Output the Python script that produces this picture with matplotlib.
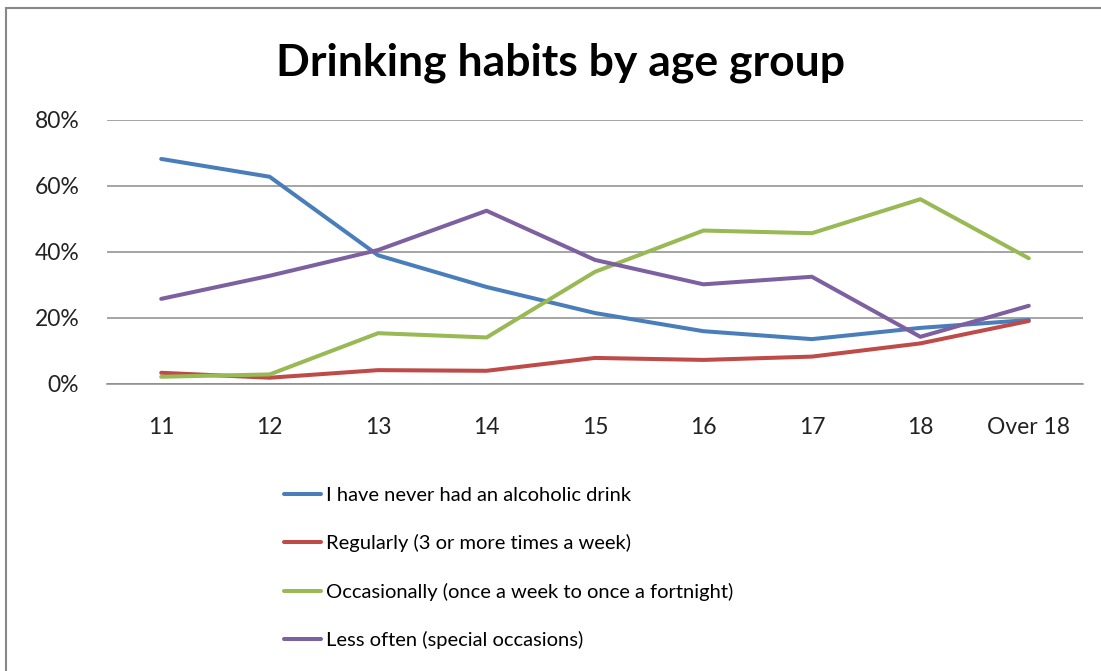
import matplotlib
matplotlib.use('Agg')
import matplotlib.pyplot as plt
from matplotlib.patches import Rectangle
from matplotlib.ticker import PercentFormatter

# Survey results: share of each age group per drinking habit
ages = ['11', '12', '13', '14', '15', '16', '17', '18', 'Over 18']
never = [68.2, 62.8, 39.0, 29.4, 21.5, 16.0, 13.6, 17.0, 19.4]
regularly = [3.4, 1.9, 4.2, 4.0, 7.9, 7.3, 8.3, 12.3, 19.1]
occasionally = [2.2, 2.9, 15.4, 14.1, 34.0, 46.5, 45.7, 56.0, 38.1]
less_often = [25.8, 32.8, 40.6, 52.5, 37.6, 30.2, 32.5, 14.3, 23.7]

labels = ['I have never had an alcoholic drink',
          'Regularly (3 or more times a week)',
          'Occasionally (once a week to once a fortnight)',
          'Less often (special occasions)']
colors = ['#4A7EBB', '#BE4B48', '#98B954', '#7D60A0']

plt.rcParams['font.family'] = ['Lato', 'DejaVu Sans']

fig = plt.figure(figsize=(11.01, 6.71), dpi=100)
fig.patches.append(Rectangle((6 / 1101, -0.1), 1.2, 1 - 8 / 671 + 0.1,
                             transform=fig.transFigure, fill=False,
                             edgecolor='#888888', linewidth=1.5))

ax = fig.add_axes([107 / 1101, 1 - 384 / 671, 976 / 1101, 264 / 671])
x = range(len(ages))
for series, lab, col in zip([never, regularly, occasionally, less_often], labels, colors):
    ax.plot(x, series, color=col, linewidth=2.9, label=lab, solid_capstyle='round')

ax.set_xlim(-0.5, len(ages) - 0.5)
ax.set_ylim(0, 80)
ax.set_yticks([0, 20, 40, 60, 80])
ax.yaxis.set_major_formatter(PercentFormatter(decimals=0))
ax.set_xticks(list(x))
ax.set_xticklabels(ages)
ax.grid(axis='y', color='#8C8C8C', linewidth=1.1)
ax.set_axisbelow(True)
for s in ['top', 'right', 'left']:
    ax.spines[s].set_visible(False)
ax.spines['bottom'].set_color('#8C8C8C')
ax.spines['bottom'].set_linewidth(1.1)
ax.tick_params(axis='both', length=0, labelsize=16.5, colors='#222222')
ax.tick_params(axis='x', pad=24)
ax.tick_params(axis='y', pad=20)

fig.text(0.509, 1 - 63 / 671, 'Drinking habits by age group', ha='center', va='center',
         fontsize=32, fontweight='bold')

ax.legend(loc='upper left', bbox_to_anchor=(266 / 1101, 1 - 469 / 671),
          bbox_transform=fig.transFigure, frameon=False, fontsize=14.5,
          handlelength=1.85, handletextpad=0.25, labelspacing=1.5)

fig.savefig('out.png', dpi=100)
